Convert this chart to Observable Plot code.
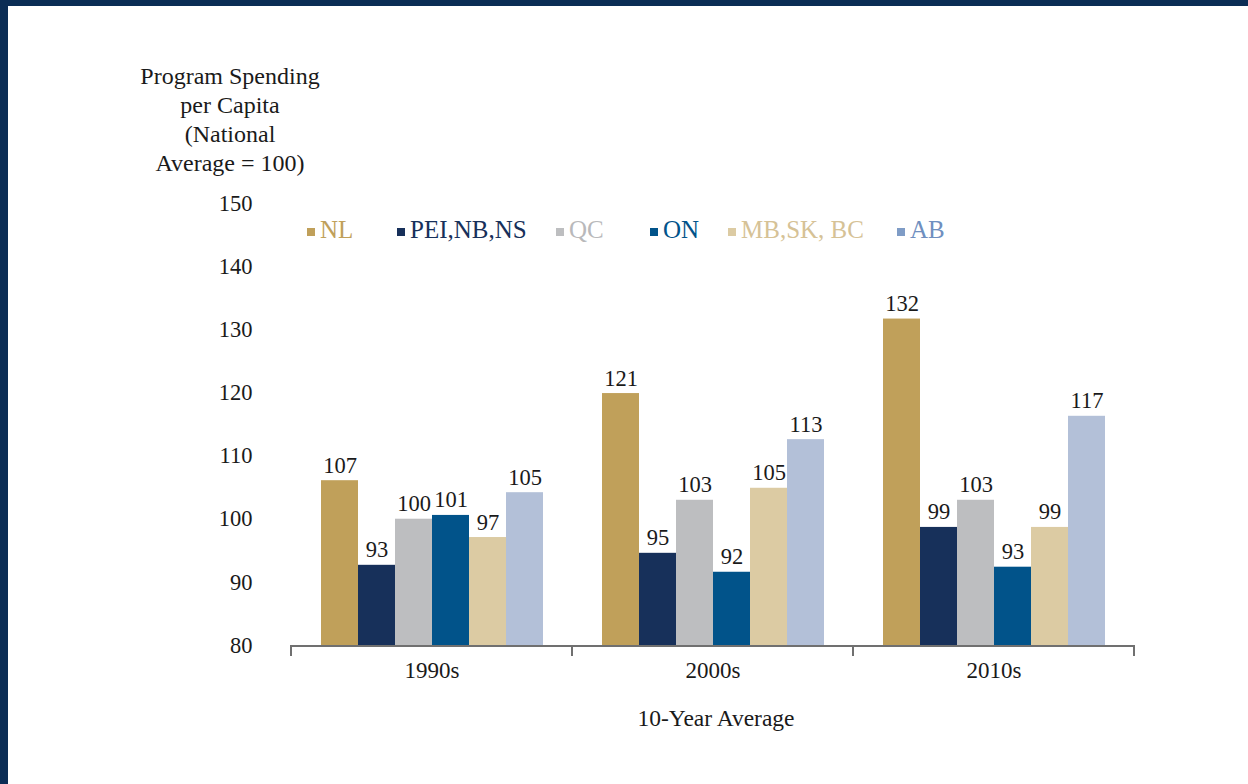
<!DOCTYPE html>
<html>
<head>
<meta charset="utf-8">
<script src="https://cdn.jsdelivr.net/npm/d3@7"></script>
<script src="https://cdn.jsdelivr.net/npm/@observablehq/plot@0.6"></script>
<style>
  html, body { margin: 0; padding: 0; background: #fff; }
  #page {
    position: relative; width: 1240px; height: 778px;
    border-top: 6px solid #0b2d55; border-left: 8px solid #0b2d55;
    font-family: "Liberation Serif", "Times New Roman", serif; color: #1a1a1a;
  }
  #ytitle {
    position: absolute; left: 122px; top: 56px; width: 200px;
    text-align: center; font-size: 24px; line-height: 29px;
  }
  #xtitle {
    position: absolute; left: 282px; width: 852px; top: 698px;
    text-align: center; font-size: 23.5px; line-height: 28px;
  }
  #legend {
    position: absolute; top: 210px; left: 0; height: 32px; font-size: 25px;
  }
  #legend .item { position: absolute; white-space: nowrap; display: flex; align-items: center; }
  #legend .sw { display: inline-block; width: 8px; height: 8px; margin-right: 5px; margin-top: 4px; }
  #chart { position: absolute; left: 0; top: 0; }
</style>
</head>
<body>
<div id="page">
  <div id="chart"></div>
  <div id="ytitle">Program Spending<br>per Capita<br>(National<br>Average = 100)</div>
  <div id="xtitle"></div>
  <div id="legend"></div>
</div>
<script>
const decades = ["1990s", "2000s", "2010s"];
const provinces = ["NL", "PEI,NB,NS", "QC", "ON", "MB,SK, BC", "AB"];
const barColors = ["#c0a05a", "#17305a", "#bdbec0", "#01538a", "#dccba3", "#b3c0d8"];
const legendTextColors = ["#c0a05a", "#17305a", "#b9b9bb", "#01538a", "#d6c296", "#6f8fbf"];
const legendSwatchColors = ["#c0a05a", "#17305a", "#bdbec0", "#01538a", "#dccba3", "#7f9cc6"];
// bar heights, per decade (order of provinces)
const values1990s = [106.1, 92.7, 100.0, 100.6, 97.1, 104.2];
const values2000s = [119.9, 94.6, 103.0, 91.6, 104.9, 112.6];
const values2010s = [131.7, 98.7, 103.0, 92.4, 98.7, 116.3];
// printed data labels
const labels1990s = ["107", "93", "100", "101", "97", "105"];
const labels2000s = ["121", "95", "103", "92", "105", "113"];
const labels2010s = ["132", "99", "103", "93", "99", "117"];
const yTicks = [80, 90, 100, 110, 120, 130, 140, 150];
const xTitle = "10-Year Average";
// legend item left positions (relative to the chart box)
const legendLefts = [299, 389, 548, 642, 720, 889];

const allValues = [values1990s, values2000s, values2010s];
const allLabels = [labels1990s, labels2000s, labels2010s];
const data = [];
decades.forEach((d, i) => provinces.forEach((p, j) => {
  data.push({decade: d, province: p, value: allValues[i][j], label: allLabels[i][j]});
}));

const font = '"Liberation Serif", "Times New Roman", serif';

// baseline + group-edge ticks, drawn in each facet
const axisBase = Plot.ruleY([80], {
  render(index, scales, values, dimensions, context) {
    const g = d3.create("svg:g");
    const {width, marginLeft, marginRight} = dimensions;
    const left = marginLeft;
    const right = (scales.fx && scales.fx.bandwidth) ? marginLeft + scales.fx.bandwidth() : width - marginRight;
    const y0 = scales.y(80);
    g.append("line")
      .attr("x1", left - 1).attr("x2", right + 1)
      .attr("y1", y0 + 1).attr("y2", y0 + 1)
      .attr("stroke", "#707070").attr("stroke-width", 2);
    for (const e of [left, right]) {
      g.append("line")
        .attr("x1", e).attr("x2", e)
        .attr("y1", y0).attr("y2", y0 + 11)
        .attr("stroke", "#707070").attr("stroke-width", 2);
    }
    return g.node();
  }
});

const chart = Plot.plot({
  width: 1240,
  height: 778,
  marginLeft: 282,
  marginRight: 114,
  marginTop: 197,
  marginBottom: 139,
  style: {fontFamily: font, fontSize: "22px", color: "#1a1a1a", background: "transparent"},
  fx: {domain: decades, padding: 0, label: null},
  x: {domain: provinces, paddingInner: 0, paddingOuter: 0.75, axis: null},
  y: {domain: [80, 150], ticks: yTicks, label: null},
  color: {domain: provinces, range: barColors},
  marks: [
    Plot.axisY({ticks: yTicks, tickSize: 0, tickPadding: 39, label: null, fontSize: 22.5}),
    Plot.axisFx({anchor: "bottom", tickSize: 0, tickPadding: 16, label: null, fontSize: 23}),
    Plot.barY(data, {fx: "decade", x: "province", y1: 80, y2: "value", fill: "province", inset: 0}),
    Plot.text(data, {fx: "decade", x: "province", y: "value", text: "label", lineAnchor: "bottom", dy: -8, fontSize: 22.5, fill: "#1a1a1a"}),
    axisBase
  ]
});
document.getElementById("chart").appendChild(chart);
document.getElementById("xtitle").textContent = xTitle;

const legend = document.getElementById("legend");
provinces.forEach((p, i) => {
  const item = document.createElement("div");
  item.className = "item";
  item.style.left = legendLefts[i] + "px";
  item.style.color = legendTextColors[i];
  const sw = document.createElement("span");
  sw.className = "sw";
  sw.style.background = legendSwatchColors[i];
  item.appendChild(sw);
  item.appendChild(document.createTextNode(p));
  legend.appendChild(item);
});
</script>
</body>
</html>
